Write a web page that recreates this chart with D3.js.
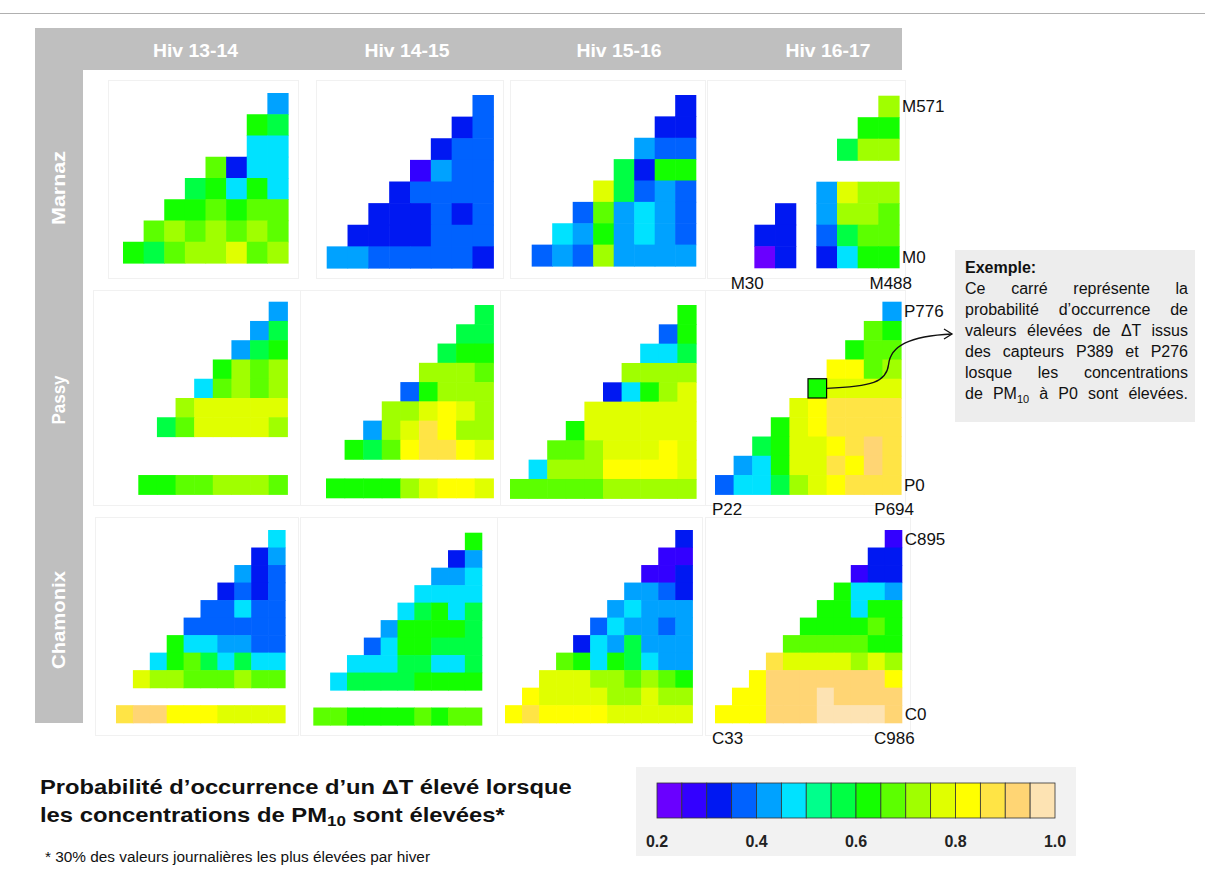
<!DOCTYPE html>
<html><head><meta charset="utf-8">
<script src="https://cdn.jsdelivr.net/npm/d3@7"></script>
<style>body{margin:0;background:#fff}svg{display:block;font-family:"Liberation Sans",Arial,sans-serif}</style>
</head><body><svg id="c" width="1205" height="882"></svg>
<script>
// ---------- DATA ----------
const winters = ["Hiv 13-14","Hiv 14-15","Hiv 15-16","Hiv 16-17"];
const sites = ["Marnaz","Passy","Chamonix"];
const legendTicks = [0.2,0.4,0.6,0.8,1.0];
const legendBreaks = d3.range(16).map(i => 0.2 + i*0.05);
const palette = ["#6a00ff","#3300ff","#0018f2","#0062ff","#00a2ff","#00e2ff","#00ff8c","#00ff44","#14ff00","#5cff00","#a0ff00","#e0ff00","#ffff00","#ffe445","#ffd574","#fde3b3"];

// each row lists its cells right-aligned against the last column; null = no data, [] = empty row
const marnaz1314 = [
 [0.42],
 [0.62,0.57],
 [null,0.47,0.47],
 [0.66,0.32,0.47,0.47],
 [0.57,0.62,0.47,0.62,0.47],
 [0.62,0.62,0.67,0.62,0.67,0.67],
 [0.67,0.72,0.67,0.72,0.67,0.72,0.67],
 [0.62,0.57,0.67,0.72,0.72,0.78,0.67,0.72]];
const marnaz1415 = [
 [0.37],
 [0.32,0.37],
 [0.31,0.37,0.37],
 [0.27,0.42,0.37,0.37],
 [0.32,0.37,0.37,0.37,0.37],
 [0.32,0.32,0.31,0.37,0.32,0.37],
 [0.31,0.32,0.32,0.31,0.37,0.37,0.37],
 [0.42,0.42,0.37,0.37,0.37,0.37,0.37,0.32]];
const marnaz1516 = [
 [0.31],
 [0.32,0.32],
 [0.42,0.37,0.37],
 [0.57,0.32,0.62,0.62],
 [0.78,0.57,0.37,0.42,0.37],
 [0.37,0.67,0.42,0.47,0.42,0.37],
 [0.47,0.42,0.62,0.42,0.47,0.42,0.37],
 [0.37,0.42,0.37,0.72,0.42,0.42,0.42,0.42]];
const marnaz1617 = [
 [0.72],
 [0.62,0.62],
 [0.57,0.72,0.72],
 [],
 [0.42,0.78,0.72,0.72],
 [0.32,null,0.42,0.72,0.72,0.67],
 [0.32,0.32,null,0.37,0.57,0.67,0.67],
 [0.24,0.32,null,0.32,0.47,0.62,0.62]];
const passy1314 = [
 [0.42],
 [0.42,0.57],
 [0.42,0.57,0.62],
 [0.62,0.72,0.67,0.72],
 [0.47,0.67,0.72,0.67,0.72],
 [0.72,0.78,0.78,0.78,0.78,0.78],
 [0.57,0.67,0.78,0.78,0.78,0.78,0.72],
 [],
 [],
 [0.62,0.62,0.67,0.67,0.72,0.72,0.72,0.67]];
const passy1415 = [
 [0.57],
 [0.57,0.57],
 [0.57,0.62,0.62],
 [0.72,0.72,0.72,0.67],
 [0.37,0.62,0.72,0.72,0.72],
 [0.72,0.72,0.78,0.82,0.78,0.72],
 [0.42,0.72,0.78,0.87,0.82,0.72,0.72],
 [0.62,0.57,0.67,0.82,0.87,0.87,0.82,0.78],
 [],
 [0.62,0.62,0.62,0.62,0.72,0.78,0.82,0.82,0.78]];
const passy1516 = [
 [0.62],
 [0.37,0.64],
 [0.47,0.47,0.57],
 [0.72,0.72,0.72,0.72],
 [0.31,0.47,0.62,0.72,0.78],
 [0.78,0.78,0.78,0.78,0.78,0.78],
 [0.62,0.78,0.78,0.78,0.78,0.78,0.78],
 [0.67,0.67,0.72,0.78,0.78,0.78,0.82,0.78],
 [0.47,0.72,0.72,0.72,0.82,0.82,0.82,0.82,0.78],
 [0.67,0.67,0.67,0.67,0.67,0.72,0.72,0.72,0.72,0.72]];
const passy1617 = [
 [0.42],
 [0.67,0.62],
 [0.62,0.67,0.67],
 [0.82,0.82,0.67,0.72],
 [0.62,0.78,0.78,0.78,0.78],
 [0.78,0.82,0.87,0.87,0.87,0.87],
 [0.62,0.78,0.82,0.87,0.87,0.87,0.87],
 [0.57,0.62,0.78,0.78,0.82,0.87,0.92,0.87],
 [0.42,0.47,0.62,0.78,0.78,0.87,0.82,0.92,0.87],
 [0.37,0.47,0.47,0.57,0.72,0.78,0.82,0.87,0.87,0.87]];
const chamonix1314 = [
 [0.47],
 [0.32,0.42],
 [0.42,0.32,0.37],
 [0.31,0.37,0.31,0.37],
 [0.37,0.37,0.47,0.37,0.37],
 [0.37,0.37,0.37,0.37,0.37,0.37],
 [0.64,0.47,0.47,0.42,0.42,0.37,0.37],
 [0.47,0.62,0.67,0.57,0.47,0.57,0.47,0.47],
 [0.78,0.72,0.72,0.67,0.67,0.67,0.72,0.67,0.67],
 [],
 [0.87,0.92,0.92,0.82,0.82,0.82,0.78,0.78,0.78,0.78]];
const chamonix1415 = [
 [0.62],
 [0.32,0.42],
 [0.42,0.42,0.47],
 [0.47,0.47,0.47,0.47],
 [0.47,0.57,0.62,0.47,0.57],
 [0.42,0.62,0.62,0.62,0.62,0.57],
 [0.37,0.47,0.62,0.62,0.57,0.57,0.57],
 [0.47,0.47,0.47,0.57,0.57,0.47,0.47,0.57],
 [0.47,0.57,0.57,0.57,0.57,0.62,0.62,0.62,0.62],
 [],
 [0.66,0.66,0.62,0.62,0.62,0.62,0.67,0.62,0.67,0.67]];
const chamonix1516 = [
 [0.32],
 [0.27,0.27],
 [0.25,0.25,0.31],
 [0.42,0.42,0.37,0.31],
 [0.42,0.47,0.42,0.42,0.42],
 [0.37,0.47,0.42,0.42,0.37,0.42],
 [0.32,0.47,0.42,0.57,0.42,0.42,0.42],
 [0.67,0.62,0.47,0.62,0.57,0.47,0.42,0.42],
 [0.78,0.78,0.78,0.72,0.72,0.67,0.72,0.67,0.62],
 [0.82,0.78,0.78,0.78,0.78,0.72,0.72,0.78,0.72,0.72],
 [0.82,0.87,0.82,0.82,0.82,0.82,0.78,0.78,0.78,0.78,0.78]];
const chamonix1617 = [
 [0.27],
 [0.32,0.32],
 [0.27,0.32,0.32],
 [0.62,0.47,0.47,0.42],
 [0.62,0.62,0.47,0.62,0.62],
 [0.62,0.62,0.64,0.62,0.67,0.62],
 [0.67,0.67,0.67,0.67,0.67,0.62,0.62],
 [0.88,0.78,0.78,0.78,0.78,0.72,0.78,0.72],
 [0.82,0.92,0.92,0.92,0.92,0.92,0.92,0.92,0.83],
 [0.82,0.82,0.92,0.92,0.92,0.97,0.92,0.92,0.92,0.92],
 [0.82,0.82,0.82,0.92,0.92,0.92,0.97,0.97,0.97,0.97,0.92]];

const panelData = [
 [marnaz1314, marnaz1415, marnaz1516, marnaz1617],
 [passy1314, passy1415, passy1516, passy1617],
 [chamonix1314, chamonix1415, chamonix1516, chamonix1617]];
const panelCols = [[8,8,8,8],[8,9,10,10],[10,10,11,11]];
const endLabels = [["M571","M0","M30","M488"],["P776","P0","P22","P694"],["C895","C0","C33","C986"]];
const exampleCell = {site:1, winter:3, row:4, col:5};
const exampleTitle = "Exemple:";
const exampleLines = ["Ce carré représente la","probabilité d’occurrence de","valeurs élevées de ΔT issus","des capteurs P389 et P276","losque les concentrations","de PM|10| à P0 sont élevées."];
const titleLines = ["Probabilité d’occurrence d’un ΔT élevé lorsque","les concentrations de PM|10| sont élevées*"];
const footnote = "* 30% des valeurs journalières  les plus élevées par hiver";

// ---------- LAYOUT ----------
const panelBoxes = [
 [[123,93,288,263],[326.7,95,493.3,268],[531.7,95,695.7,266],[733.7,95.7,899,267.7]],
 [[138.3,301.7,287.3,494.3],[326,305,493.3,497.7],[510,305,696,498.3],[715,301.7,901,494.3]],
 [[116,530,285,722.7],[313.3,532.7,481.7,725],[505,530,692.3,722.7],[715,530,901.7,722.7]]];
const panelFrames = [
 [[108,80,298,278],[316,80,503,278],[510,80,705,278],[707,80,905,278]],
 [[93,290,300,505],[300,290,502,505],[500,290,705,505],[705,290,905,505]],
 [[95,517,298,735],[300,517,500,735],[497,517,702,735],[705,517,910,735]]];
const headerX = [195.5,407,619,828];
const headerW = 85;
const rowLabelY = [188,400,620];
const rowLabelW = [74,49,98];
const titleW = [532,465];
const GRAY = "#bfbfbf";

const svg = d3.select("#c");
const color = d3.scaleQuantize().domain([0.2,1.0]).range(palette);

// top rule
svg.append("line").attr("x1",0).attr("x2",1205).attr("y1",13.5).attr("y2",13.5).attr("stroke","#b0b0b0").attr("stroke-width",1);

// gray L frame
svg.append("rect").attr("x",35).attr("y",28).attr("width",867).attr("height",42).attr("fill",GRAY);
svg.append("rect").attr("x",35).attr("y",28).attr("width",48).attr("height",695).attr("fill",GRAY);
svg.selectAll("text.hdr").data(winters).join("text").attr("class","hdr")
  .attr("x",(d,i)=>headerX[i]).attr("y",57).attr("text-anchor","middle")
  .attr("fill","#fff").attr("font-weight","bold").attr("font-size",18)
  .attr("textLength",headerW).attr("lengthAdjust","spacingAndGlyphs").text(d=>d);
svg.selectAll("text.site").data(sites).join("text").attr("class","site")
  .attr("transform",(d,i)=>`translate(65,${rowLabelY[i]}) rotate(-90)`)
  .attr("text-anchor","middle").attr("fill","#fff").attr("font-weight","bold").attr("font-size",18)
  .attr("textLength",(d,i)=>rowLabelW[i]).attr("lengthAdjust","spacingAndGlyphs").text(d=>d);

// panels
let exampleGeom = null;
panelData.forEach((rowPanels, s) => {
  rowPanels.forEach((data, w) => {
    const fr = panelFrames[s][w];
    svg.append("rect").attr("x",fr[0]+0.5).attr("y",fr[1]+0.5).attr("width",fr[2]-fr[0]).attr("height",fr[3]-fr[1])
      .attr("fill","#fff").attr("stroke","#f1f1f1");
    const [x0,y0,x1,y1] = panelBoxes[s][w];
    const nC = panelCols[s][w], nR = data.length;
    const x = d3.scaleBand().domain(d3.range(nC)).range([x0,x1]);
    const y = d3.scaleBand().domain(d3.range(nR)).range([y0,y1]);
    const cells = [];
    data.forEach((row, r) => {
      const off = nC - row.length;
      row.forEach((v, i) => { if (v !== null) cells.push({r, c: off+i, v}); });
    });
    const g = svg.append("g");
    g.selectAll("rect").data(cells).join("rect")
      .attr("x",d=>x(d.c)).attr("y",d=>y(d.r))
      .attr("width",x.bandwidth()+0.6).attr("height",y.bandwidth()+0.6)
      .attr("fill",d=>color(d.v));
    if (w === 3) {
      const lab = endLabels[s];
      const fs = 17;
      svg.append("text").attr("x",x1+3).attr("y",y(0)+y.bandwidth()/2+6).attr("font-size",fs).attr("fill","#111").text(lab[0]);
      svg.append("text").attr("x",x1+3).attr("y",y(nR-1)+y.bandwidth()/2+6).attr("font-size",fs).attr("fill","#111").text(lab[1]);
      svg.append("text").attr("x",x0-3).attr("y",y1+21).attr("font-size",fs).attr("fill","#111").text(lab[2]);
      svg.append("text").attr("x",x1+13).attr("y",y1+21).attr("text-anchor","end").attr("font-size",fs).attr("fill","#111").text(lab[3]);
    }
    if (s === exampleCell.site && w === exampleCell.winter) {
      exampleGeom = {x: x(exampleCell.col), y: y(exampleCell.row), w: x.bandwidth(), h: y.bandwidth()};
    }
  });
});

// example highlight + arrow
if (exampleGeom) {
  const e = exampleGeom;
  svg.append("rect").attr("x",e.x).attr("y",e.y).attr("width",e.w).attr("height",e.h)
    .attr("fill","none").attr("stroke","#000").attr("stroke-width",1.2);
  const sx = e.x + e.w, sy = e.y + e.h/2;
  const tx = 952, ty = 334;
  svg.append("path").attr("fill","none").attr("stroke","#111").attr("stroke-width",1.3)
    .attr("d",`M${sx},${sy} C${sx+45},${sy-2} ${sx+60},${sy-6} ${sx+62},${sy-24} C${sx+64},${sy-42} ${sx+82},${ty+2} ${tx},${ty}`);
  svg.append("path").attr("fill","none").attr("stroke","#111").attr("stroke-width",1.3)
    .attr("d",`M${tx-8},${ty-5} L${tx},${ty} L${tx-8},${ty+5}`);
}

// helper: add text with |sub| subscript segments
function richText(sel, str, subSize) {
  const parts = str.split("|");
  parts.forEach((p, i) => {
    if (!p) return;
    const t = sel.append("tspan").text(p);
    if (i % 2 === 1) t.attr("font-size", subSize).attr("dy", 4);
    else if (i > 0) t.attr("dy", -4);
  });
}

// example box
svg.append("rect").attr("x",955).attr("y",250).attr("width",240).attr("height",172).attr("fill","#ededed");
svg.append("text").attr("x",965).attr("y",273).attr("font-size",16).attr("font-weight","bold").attr("fill","#111").text(exampleTitle);
exampleLines.forEach((line, i) => {
  const t = svg.append("text").attr("x",965).attr("y",294 + i*21).attr("font-size",16).attr("fill","#111");
  richText(t, line, 11);
  const natural = t.node().getComputedTextLength();
  const spaces = (line.replace(/\|/g,"").match(/ /g) || []).length;
  const target = 1188 - 965;
  if (spaces > 0 && natural < target) t.attr("word-spacing", (target - natural) / spaces);
});

// title + footnote
titleLines.forEach((line, i) => {
  const t = svg.append("text").attr("x",40).attr("y",794 + i*28).attr("font-size",21).attr("font-weight","bold").attr("fill","#111");
  richText(t, line, 15);
  const natural = t.node().getComputedTextLength();
  const k = titleW[i] / natural;
  t.attr("transform", `translate(${40 - 40*k},0) scale(${k},1)`);
});
svg.append("text").attr("x",45).attr("y",862).attr("font-size",14).attr("fill","#111")
  .attr("textLength",385).attr("lengthAdjust","spacingAndGlyphs").text(footnote);

// legend
svg.append("rect").attr("x",636).attr("y",767).attr("width",440).attr("height",89).attr("fill","#f2f2f2");
const lx = d3.scaleLinear().domain([0.2,1.0]).range([657,1055]);
svg.append("g").selectAll("rect").data(legendBreaks).join("rect")
  .attr("x",d=>lx(d)).attr("y",783).attr("width",lx(0.25)-lx(0.2)).attr("height",35)
  .attr("fill",d=>color(d+0.025)).attr("stroke","#333").attr("stroke-width",0.8);
svg.append("g").selectAll("text").data(legendTicks).join("text")
  .attr("x",d=>lx(d)).attr("y",847).attr("text-anchor","middle").attr("font-size",16).attr("font-weight","bold").attr("fill","#222")
  .text(d=>d3.format(".1f")(d));
</script></body></html>
